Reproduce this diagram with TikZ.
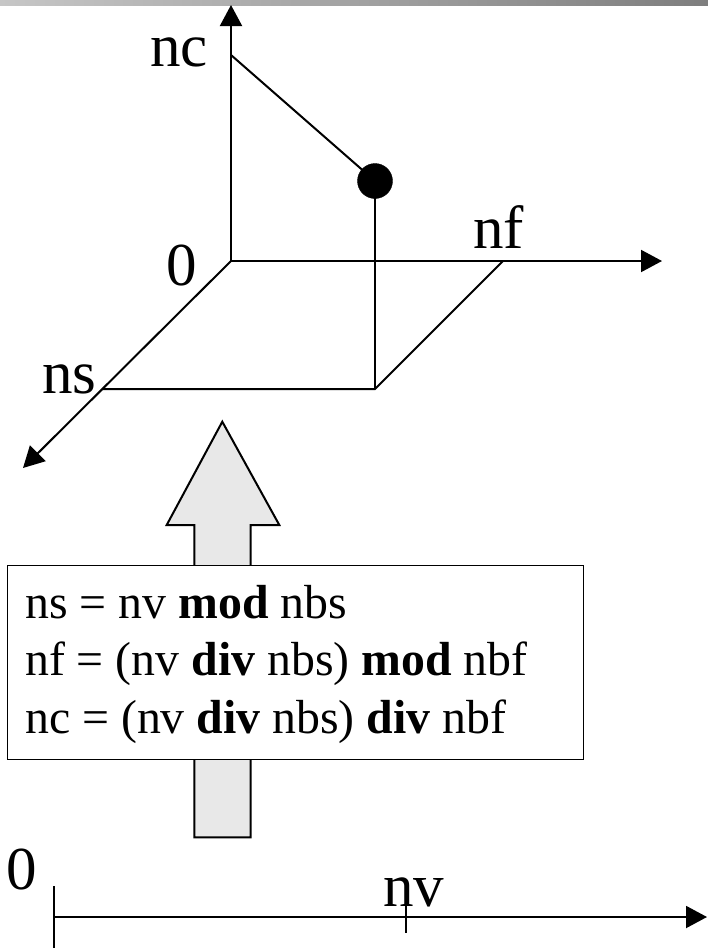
\documentclass[tikz,border=0pt]{standalone}
\usepackage{fontspec}
\setmainfont{Liberation Serif}
\usetikzlibrary{arrows.meta}
\definecolor{barL}{HTML}{C6C6C6}
\definecolor{barR}{HTML}{7E7E7E}
\definecolor{arrowfill}{HTML}{E8E8E8}
\tikzset{
  axis/.style={line width=2pt, -{Triangle[length=21pt,width=22pt]}},
  thin line/.style={line width=2pt},
  lbl/.style={inner sep=0pt, anchor=base west, font=\fontsize{61}{61}\selectfont},
  boxtext/.style={inner sep=0pt, anchor=base west, font=\fontsize{47.8}{47.8}\selectfont},
}
\begin{document}
\begin{tikzpicture}[x=1pt,y=-1pt]
\useasboundingbox (0,0) rectangle (708,948);
\shade[left color=barL, right color=barR] (0,0) rectangle (708,5);
% 3D coordinates
\coordinate (O) at (231,261);
\coordinate (ztip) at (231,5);
\coordinate (xtip) at (662,261);
\coordinate (ytip) at (23,468);
\coordinate (ncp) at (231,55);
\coordinate (nsp) at (102,389);
\coordinate (nfp) at (503,261);
\coordinate (corner) at (375,389);
\coordinate (dotc) at (375,181);
\draw[axis] (O) -- (ztip);
\draw[axis] (O) -- (xtip);
\draw[axis] (O) -- (ytip);
\draw[thin line] (nsp) -- (corner) -- (nfp);
\draw[thin line] (dotc) -- (corner);
\draw[thin line] (ncp) -- (dotc);
\node[circle, fill=black, draw=black, minimum size=35pt, inner sep=0pt] (dot) at (dotc) {};
\node[lbl] (nc) at (150,66) {nc};
\node[lbl] (zero) at (166,285) {0};
\node[lbl] (nf) at (473,248) {nf};
\node[lbl] (ns) at (42,393) {ns};
% big arrow
\draw[line width=2pt, fill=arrowfill, line join=miter]
  (222.3,421.7) -- (279.3,525) -- (250.5,525) -- (250.5,837.3) -- (194.3,837.3) -- (194.3,525) -- (166.7,525) -- cycle;
% formula box
\node[draw=black, line width=1pt, fill=white, anchor=north west, minimum width=576pt, minimum height=194pt, inner sep=0pt] (box) at (6.7,565) {};
\node[boxtext] (l1) at (25,618) {ns = nv \textbf{mod} nbs};
\node[boxtext] (l2) at (25,675.5) {nf = (nv \textbf{div} nbs) \textbf{mod} nbf};
\node[boxtext] (l3) at (25,733) {nc = (nv \textbf{div} nbs) \textbf{div} nbf};
% bottom axis
\coordinate (b0) at (54,917);
\coordinate (bend) at (707,917);
\coordinate (t1a) at (54,886);
\coordinate (t1b) at (54,948);
\coordinate (t2a) at (406,903);
\coordinate (t2b) at (406,933);
\draw[axis] (b0) -- (bend);
\draw[thin line] (t1a) -- (t1b);
\draw[thin line] (t2a) -- (t2b);
\node[lbl] (bzero) at (6,889) {0};
\node[lbl] (nv) at (383,906) {nv};
\end{tikzpicture}
\end{document}
